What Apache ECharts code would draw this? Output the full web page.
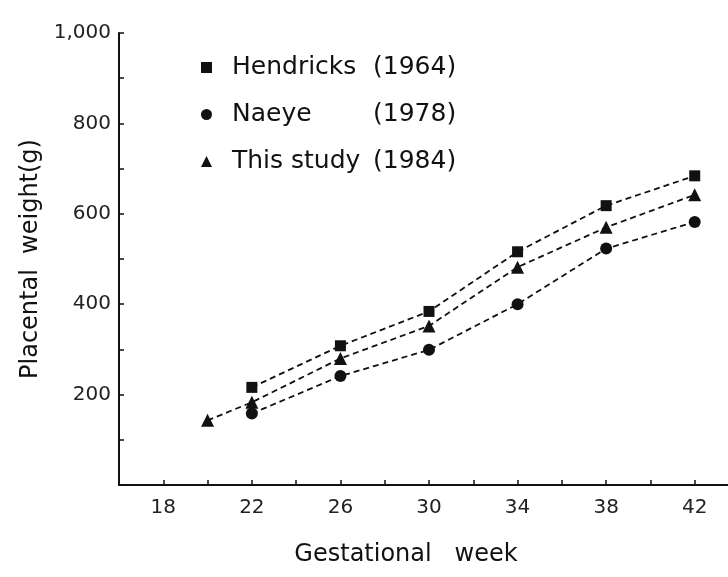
<!DOCTYPE html>
<html>
<head>
<meta charset="utf-8">
<script src="https://cdn.jsdelivr.net/npm/echarts@6/dist/echarts.min.js"></script>
<style>
  html, body { margin: 0; padding: 0; background: #fff; }
  #chart { width: 728px; height: 577px; }
</style>
</head>
<body>
<div id="chart"></div>
<script>
// values
const hendricksWeeks = [22, 26, 30, 34, 38, 42]
const hendricksWeight = [216, 308, 384, 516, 618, 684]

const naeyeWeeks = [22, 26, 30, 34, 38, 42]
const naeyeWeight = [158, 241, 299, 400, 523, 582]

const studyWeeks = [20, 22, 26, 30, 34, 38, 42]
const studyWeight = [143, 183, 280, 352, 482, 570, 642]

const seriesNames = ['Hendricks', 'Naeye', 'This study']
const seriesYears = ['(1964)', '(1978)', '(1984)']
const xLabelWeeks = [18, 22, 26, 30, 34, 38, 42]
const yLabelValues = [200, 400, 600, 800, 1000]

const ink = '#111'
const font = 'DejaVu Sans'

function pairs(xs, ys) {
  return xs.map((x, i) => [x, ys[i]])
}

function lineSeries(name, symbol, size, xs, ys) {
  return {
    name: name,
    type: 'line',
    data: pairs(xs, ys),
    symbol: symbol,
    symbolSize: size,
    itemStyle: { color: ink },
    lineStyle: { color: ink, width: 1.8, type: [6, 4] }
  }
}

const chart = echarts.init(document.getElementById('chart'))

chart.setOption({
  animation: false,
  backgroundColor: '#fff',
  textStyle: { fontFamily: font, color: ink },
  // x runs past the right edge of the picture, like the scan
  grid: { left: 119, width: 620, top: 33, bottom: 92, outerBoundsMode: 'none', containLabel: false },
  legend: {
    orient: 'vertical',
    left: 196,
    top: 50,
    itemWidth: 11,
    itemHeight: 11,
    itemGap: 22,
    data: [
      { name: seriesNames[0], icon: 'rect' },
      { name: seriesNames[1], icon: 'circle' },
      { name: seriesNames[2], icon: 'triangle' }
    ],
    formatter: (name) => {
      const i = seriesNames.indexOf(name)
      return '{n|' + name + '}{y|' + seriesYears[i] + '}'
    },
    textStyle: {
      color: ink,
      fontFamily: font,
      fontSize: 25,
      rich: {
        n: { fontSize: 25, fontFamily: font, color: ink, width: 141, padding: [0, 0, 0, 15] },
        y: { fontSize: 25, fontFamily: font, color: ink }
      }
    }
  },
  xAxis: {
    type: 'value',
    min: 16,
    max: 44,
    interval: 2,
    name: 'Gestational   week',
    nameLocation: 'middle',
    nameGap: 58,
    nameTextStyle: { fontSize: 24, color: ink, fontFamily: font, padding: [0, 46, 0, 0] },
    axisLine: { show: true, lineStyle: { color: ink, width: 2 } },
    axisTick: { show: true, inside: true, length: 5, lineStyle: { color: ink, width: 1.5 } },
    splitLine: { show: false },
    axisLabel: {
      margin: 13,
      fontSize: 20,
      color: '#222',
      formatter: (v) => (xLabelWeeks.includes(v) ? String(v) : '')
    }
  },
  yAxis: {
    type: 'value',
    min: 0,
    max: 1000,
    interval: 100,
    name: 'Placental  weight(g)',
    nameLocation: 'middle',
    nameGap: 74,
    nameTextStyle: { fontSize: 24, color: ink, fontFamily: font },
    axisLine: { show: true, lineStyle: { color: ink, width: 2 } },
    axisTick: { show: true, inside: true, length: 5, lineStyle: { color: ink, width: 1.5 } },
    splitLine: { show: false },
    axisLabel: {
      margin: 8,
      fontSize: 20,
      color: '#222',
      formatter: (v) => (yLabelValues.includes(v) ? (v === 1000 ? '1,000' : String(v)) : '')
    }
  },
  series: [
    lineSeries(seriesNames[0], 'rect', 11, hendricksWeeks, hendricksWeight),
    lineSeries(seriesNames[1], 'circle', 12, naeyeWeeks, naeyeWeight),
    lineSeries(seriesNames[2], 'triangle', 13, studyWeeks, studyWeight)
  ]
})
</script>
</body>
</html>
